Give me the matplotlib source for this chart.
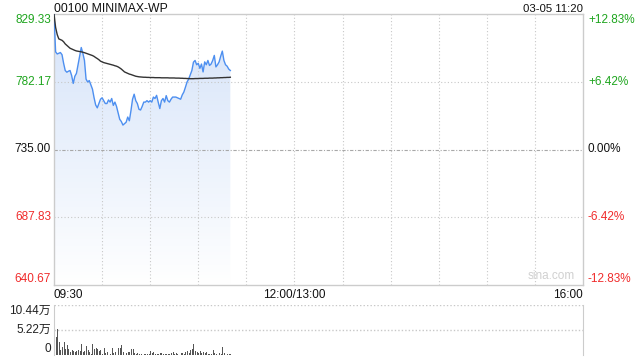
import numpy as np
import matplotlib.pyplot as plt
import matplotlib.transforms as mtrans
from matplotlib.colors import LinearSegmentedColormap

# minute-by-minute data, 09:30 -> 11:20
price = [829.3, 803, 801.5, 802, 802.5, 801, 795, 790, 788.8, 789.5,
         790, 786.5, 781, 786, 788, 794, 800, 806, 802, 797,
         784, 782, 783, 780, 777, 771, 766, 764, 767, 770,
         771, 769, 767, 767, 769.5, 768, 770.5, 765.7, 768, 765,
         760.5, 756, 754.5, 752, 753, 754, 757.6, 755, 762, 770,
         773.5, 769, 767, 763, 762.5, 765, 768, 768, 769, 768,
         769, 768, 771.5, 770.5, 772.7, 768, 763.5, 769, 770.5, 768,
         772.5, 769, 768, 770, 771.5, 771.5, 771.5, 771, 770.5, 770,
         773, 775, 778.4, 782, 784, 787, 790, 795.8, 797, 794,
         795, 791.5, 794.5, 789, 796, 794, 797, 793.5, 794.5, 797,
         800.5, 792.5, 794, 796, 800, 803.5, 797, 794, 793, 791,
         790]
avg_price = [829.3, 820, 815, 812, 811.5, 811, 810, 808.5, 807.5, 806.5,
             805.5, 805, 804.5, 804, 803.6, 803.4, 803.2, 803, 802.7, 802.4,
             802, 801.6, 801.2, 800.8, 800.4, 799.8, 799, 798.3, 797.5, 796.5,
             796, 795.5, 795.2, 794.9, 794.6, 794.3, 794, 793.7, 793.3, 793,
             792.5, 791.8, 791, 790, 789, 788.5, 788, 787.5, 787.2, 786.8,
             786.4, 786, 785.8, 785.6, 785.5, 785.4, 785.3, 785.3, 785.2, 785.2,
             785.1, 785.1, 785.1, 785, 785, 785, 785, 784.9, 784.9, 784.9,
             784.9, 784.9, 784.8, 784.8, 784.8, 784.8, 784.7, 784.7, 784.7, 784.6,
             784.6, 784.5, 784.5, 784.4, 784.4, 784.3, 784.3, 784.3, 784.4, 784.4,
             784.4, 784.5, 784.5, 784.5, 784.6, 784.6, 784.6, 784.7, 784.7, 784.7,
             784.8, 784.8, 784.9, 784.9, 785, 785, 785.1, 785.1, 785.2, 785.2,
             785.3]
volume = [10.44, 3.76, 5.5, 2.7, 1.0, 1.7, 2.7, 1.3, 2.0, 1.3,
          0.6, 1.1, 0.8, 0.6, 0.8, 1.0, 0.8, 2.4, 0.6, 0.8,
          1.9, 1.0, 0.6, 0.3, 2.4, 1.3, 1.5, 1.3, 0.8, 1.0,
          0.3, 1.5, 0.4, 0.6, 0.3, 0.15, 1.5, 0.4, 0.6, 0.5,
          1.5, 1.5, 2.0, 0.7, 3.6, 0.4, 0.6, 0.6, 1.3, 1.3,
          0.4, 0.3, 0.4, 0.3, 0.15, 0.1, 0.2, 0.3, 0.2, 0.15,
          0.8, 0.4, 0.55, 0.2, 0.15, 0.3, 0.4, 0.35, 0.2, 0.3,
          0.2, 0.3, 0.15, 0.4, 0.6, 0.2, 0.4, 0.3, 0.1, 0.4,
          0.5, 0.3, 0.6, 0.9, 0.5, 1.0, 1.2, 2.2, 0.8, 0.7,
          0.5, 0.8, 0.5, 0.6, 0.4, 0.6, 0.3, 0.2, 0.3, 1.0,
          0.4, 0.3, 0.4, 0.5, 0.3, 1.7, 0.4, 0.3, 0.25, 0.3,
          0.3]

prev_close = 735.00
price_ticks = [829.33, 782.17, 735.00, 687.83, 640.67]
pct_ticks = ['+12.83%', '+6.42%', '0.00%', '-6.42%', '-12.83%']
vol_max = 10.44
vol_ticks = ['10.44万', '5.22万', '0']
time_labels = ['09:30', '12:00/13:00', '16:00']
title = '00100 MINIMAX-WP'
stamp = '03-05 11:20'

GREEN = '#1ea51e'
RED = '#f02b2b'
GRID = '#c8c8c8'
FONT = ['Liberation Sans', 'Noto Sans CJK SC', 'DejaVu Sans']
plt.rcParams['font.family'] = FONT

minutes = np.arange(len(price))
total_min = 330

fig = plt.figure(figsize=(6.4, 3.6), dpi=100)
ax = fig.add_axes([54 / 640, 1 - 285 / 360, 529 / 640, 271 / 360])
axv = fig.add_axes([54 / 640, 1 - 355 / 360, 529 / 640, 50 / 360])

lo, hi = price_ticks[-1], price_ticks[0]

# gradient fill under the price line
poly = ax.fill_between(minutes, price, lo, color='none', lw=0)
cmap = LinearSegmentedColormap.from_list('g', ['#ffffff', '#d5e3f9'])
grad = np.linspace(0, 1, 256).reshape(-1, 1)
im = ax.imshow(grad, cmap=cmap, aspect='auto', origin='lower',
               extent=[0, total_min, lo, hi], zorder=1)
im.set_clip_path(poly.get_paths()[0], transform=ax.transData)
ax.set_xlim(0, total_min)
ax.set_ylim(lo, hi)

for t in range(30, total_min, 30):
    ax.axvline(t, color=GRID, lw=0.8, ls=(0, (1, 2)), zorder=2)
for p in price_ticks[1:-1]:
    if p == prev_close:
        ax.axhline(p, color='#a8a8a8', lw=0.8, ls=(0, (3, 1.5, 1, 1.5)), zorder=2)
    else:
        ax.axhline(p, color=GRID, lw=0.8, ls=(0, (1, 2)), zorder=2)

ax.plot(minutes, price, color='#4d8ff0', lw=1.0, zorder=3)
ax.plot(minutes, avg_price, color='#333333', lw=1.0, zorder=3)

for s in ax.spines.values():
    s.set_color('#cccccc')
    s.set_linewidth(1)
ax.set_xticks([])
ax.set_yticks([])

left_tr = mtrans.offset_copy(ax.get_yaxis_transform(), fig=fig, x=-3, y=0, units='dots')
right_tr = mtrans.offset_copy(ax.get_yaxis_transform(), fig=fig, x=5, y=0, units='dots')

# price / percent labels
for i, (p, pc) in enumerate(zip(price_ticks, pct_ticks)):
    if p > prev_close:
        col = GREEN
    elif p < prev_close:
        col = RED
    else:
        col = '#111111'
    va = 'center'
    if i == 0:
        va = 'top'
    elif i == len(price_ticks) - 1:
        va = 'bottom'
    ax.text(0, p, '%.2f' % p, transform=left_tr, ha='right',
            va=va, color=col, fontsize=8.5)
    ax.text(1, p, pc, transform=right_tr, ha='left',
            va=va, color=col, fontsize=8.5)

top_tr = mtrans.offset_copy(ax.transAxes, fig=fig, x=0, y=2, units='dots')
ax.text(0.0, 1.0, title, transform=top_tr, ha='left', va='baseline',
        fontsize=8.8, color='#111111')
ax.text(1.0, 1.0, stamp, transform=top_tr, ha='right', va='baseline',
        fontsize=8.2, color='#111111')
ax.text(0.985, 0.01, 'sina.com', transform=ax.transAxes, ha='right',
        va='bottom', fontsize=8.5, color='#d0d0d0')

# time labels under price panel
bot_tr = mtrans.offset_copy(ax.get_xaxis_transform(), fig=fig, x=0, y=-4, units='dots')
ax.text(0, 0, time_labels[0], transform=bot_tr,
        ha='left', va='top', fontsize=8.5, color='#111111')
ax.text(150, 0, time_labels[1], transform=bot_tr,
        ha='center', va='top', fontsize=8.5, color='#111111')
ax.text(total_min, 0, time_labels[2], transform=bot_tr,
        ha='right', va='top', fontsize=8.5, color='#111111')

# volume panel
axv.set_xlim(0, total_min)
axv.set_ylim(0, vol_max)
axv.bar(minutes, volume, width=0.6, color='#555555', align='edge')
axv.axhline(vol_max, color=GRID, lw=1, ls=(0, (1, 1.5)), zorder=0)
axv.axhline(vol_max / 2, color=GRID, lw=1, ls=(0, (1, 1.5)), zorder=0)
axv.spines['top'].set_visible(False)
axv.spines['bottom'].set_visible(False)
axv.spines['left'].set_color('#cccccc')
axv.spines['right'].set_color('#cccccc')
axv.set_xticks([])
axv.set_yticks([])
vleft_tr = mtrans.offset_copy(axv.get_yaxis_transform(), fig=fig, x=-3, y=0, units='dots')
axv.text(0, vol_max, vol_ticks[0], transform=vleft_tr,
         ha='right', va='top', fontsize=8.5, color='#222222')
axv.text(0, vol_max / 2, vol_ticks[1], transform=vleft_tr,
         ha='right', va='center', fontsize=8.5, color='#222222')
axv.text(0, 0, vol_ticks[2], transform=vleft_tr,
         ha='right', va='bottom', fontsize=8.5, color='#222222')

fig.savefig('out.png', dpi=100)
